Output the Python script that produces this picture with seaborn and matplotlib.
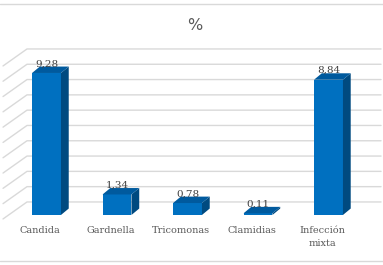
import matplotlib
matplotlib.use("Agg")
import matplotlib.pyplot as plt
from matplotlib.patches import Polygon
from matplotlib.lines import Line2D
import seaborn as sns

categories = ["Candida", "Gardnella", "Tricomonas", "Clamidias", "Infección\nmixta"]
values = [9.28, 1.34, 0.78, 0.11, 8.84]
value_labels = ["9,28", "1,34", "0,78", "0,11", "8,84"]
grid_levels = list(range(0, 11))

front = "#0070C0"
side = "#004A80"
top = "#005A9E"
grey_txt = "#595959"

sns.set_style("white")
fig = plt.figure(figsize=(3.83, 2.65), dpi=100)
ax = fig.add_axes([0, 0, 1, 1])

# back wall gridlines with the slanted side wall piece
for k in grid_levels:
    yw = k + 0.85
    ax.plot([-0.617, -0.277, 4.745], [yw - 1.11, yw, yw], color="#d9d9d9", lw=1, zorder=1,
            clip_on=False)

sns.barplot(x=list(range(len(values))), y=values, width=0.41, color=front,
            saturation=1, ax=ax, zorder=3, edgecolor="none")

dx, dy = 0.11, 0.42
for p, lab in zip(ax.patches, value_labels):
    x0 = p.get_x()
    x1 = x0 + p.get_width()
    h = p.get_height()
    ax.add_patch(Polygon([(x1, 0), (x1 + dx, dy), (x1 + dx, h + dy), (x1, h)],
                         closed=True, facecolor=side, edgecolor="none", zorder=3))
    ax.add_patch(Polygon([(x0, h), (x0 + dx, h + dy), (x1 + dx, h + dy), (x1, h)],
                         closed=True, facecolor=top, edgecolor="none", zorder=3))
    ax.text((x0 + x1) / 2, h + 0.3, lab, ha="center", va="bottom", fontsize=7.5,
            color="#404040", family="DejaVu Serif", zorder=4)

for i, c in enumerate(categories):
    ax.text(i - 0.09, -0.75, c, ha="center", va="top", fontsize=7, color=grey_txt,
            family="DejaVu Serif", linespacing=1.45)

ax.text(2.1, 12.4, "%", ha="center", va="center", fontsize=11.5, color=grey_txt)

ax.set_xlim(-0.66, 4.773)
ax.set_ylim(-3.27, 14.05)
ax.axis("off")

fig.add_artist(Line2D([0, 1], [1 - 4 / 265, 1 - 4 / 265], color="#d9d9d9", lw=1))
fig.add_artist(Line2D([0, 1], [4 / 265, 4 / 265], color="#d9d9d9", lw=1))

fig.savefig("out.png", dpi=100)
